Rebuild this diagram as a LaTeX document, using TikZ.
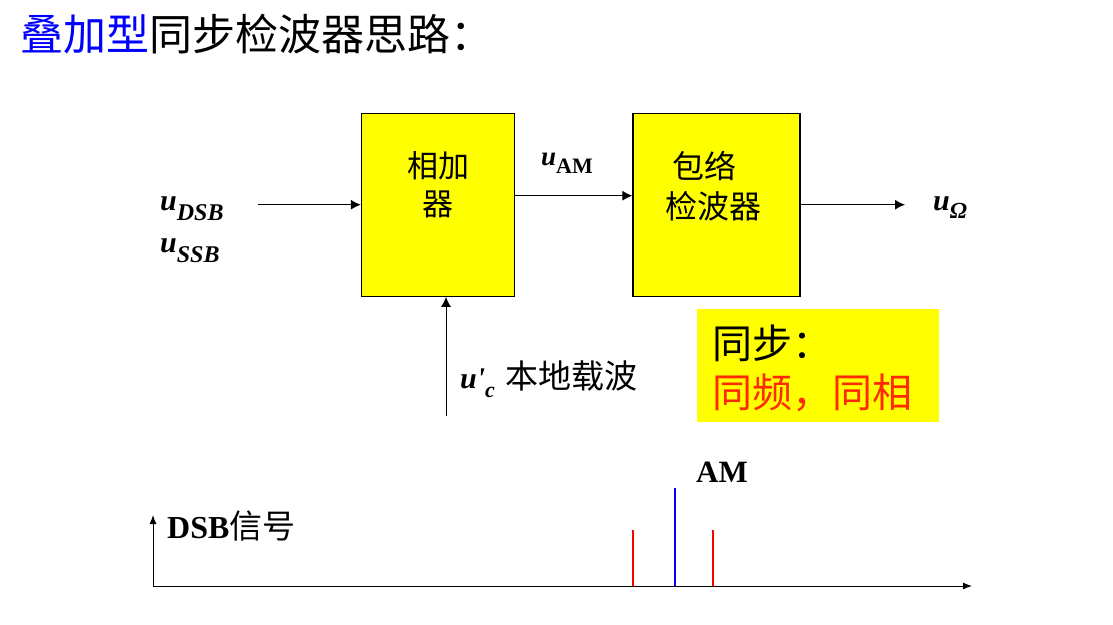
\documentclass[tikz,border=0pt]{standalone}
\usepackage{fontspec}
\setmainfont{Liberation Serif}
\newfontfamily\cjk{Noto Sans CJK SC}
\newfontfamily\rawserif{Liberation Serif}
\usetikzlibrary{arrows.meta}
\definecolor{titleblue}{HTML}{0000FF}
\definecolor{boxyellow}{HTML}{FFFF00}
\definecolor{syncred}{HTML}{FF2A00}
\definecolor{linered}{HTML}{FF0000}
\definecolor{lineblue}{HTML}{0000FF}
\newcommand{\setfs}[1]{\fontsize{#1}{#1}\selectfont}

\begin{document}
\begin{tikzpicture}[x=1pt,y=-1pt,
        blockbox/.style={rectangle, draw=black, fill=boxyellow, line width=1.3pt, inner sep=0pt},
        blocktext/.style={inner sep=0pt, align=center, font=\cjk\fontsize{31}{38}\selectfont},
        varlabel/.style={inner sep=0pt, anchor=base west, font=\bfseries\itshape\setfs{30}},
        plain/.style={inner sep=0pt, anchor=base west},
        conn/.style={line width=1pt, -{Latex[length=10pt,width=10pt]}},
        axis/.style={line width=1pt, -{Latex[length=9pt,width=7pt]}},
        spec/.style={line width=2.8pt},
    ]
        \useasboundingbox (0,0) rectangle (1113,624);

        %Title
        \node[plain, font=\cjk\setfs{43}] (title) at (20,50) {\textcolor{titleblue}{叠加型}同步检波器思路：};

        %Nodes
        \node[blockbox, minimum width=153pt, minimum height=183pt] (adder) at (438,204.7) {};
        \node[blockbox, minimum width=167pt, minimum height=183pt] (envdet) at (716.5,204.7) {};

        \node[blocktext] (addertext) at (438,185) {相加\\器};
        \node[blocktext, font=\cjk\fontsize{32}{40}\selectfont] (envdettext) at (713,186) {包络\hspace*{17pt}\\检波器};

        \node[varlabel] (udsb) at (160,210) {u\raisebox{-10pt}{\setfs{24}DSB}};
        \node[varlabel] (ussb) at (160,252) {u\raisebox{-10pt}{\setfs{24}SSB}};
        \node[varlabel, font=\bfseries\itshape\setfs{27}] (uam) at (541,165) {u\raisebox{-8pt}{\setfs{22}\upshape AM}};
        \node[varlabel] (uomega) at (933,210) {u\raisebox{-8pt}{\setfs{23}Ω}};
        \node[varlabel] (ucarrier) at (460,388) {u{\rawserif\bfseries\itshape '}\raisebox{-9pt}{\setfs{22}c}};
        \node[plain, font=\cjk\setfs{33}] (carrier) at (505,388) {本地载波};

        \coordinate (inL) at (258,204.7);
        \coordinate (outR) at (905,204.7);
        \coordinate (loB) at (446,416);

        %Sync box
        \node[fill=boxyellow, inner sep=0pt, minimum width=242pt, minimum height=113pt] (sync) at (817.5,365.5) {};
        \node[plain, font=\cjk\setfs{40}] (synctitle) at (712,358) {同步：};
        \node[plain, font=\cjk\setfs{40}, text=syncred] (syncitems) at (712,407) {同频，同相};

        %Lines
        \draw[conn] (inL) -- (adder.west);
        \draw[conn] ([yshift=9pt]adder.east) -- ([yshift=9pt]envdet.west);
        \draw[conn] (envdet.east) -- (outR);
        \draw[conn] (loB) -- (loB |- adder.south);

        %Spectrum
        \coordinate (origin) at (153,586);
        \coordinate (xend) at (972,586);
        \coordinate (yend) at (153,515);
        \draw[axis] (origin) -- (xend);
        \draw[axis] (origin) -- (yend);
        \node[plain, font=\bfseries\setfs{32}] (dsblabel) at (167,538) {DSB{\cjk\mdseries\setfs{33}信号}};
        \node[plain, font=\bfseries\setfs{31}] (amlabel) at (696,482) {AM};

        \draw[spec, draw=linered] (633,586) -- (633,530);
        \draw[spec, draw=lineblue] (675,586) -- (675,488);
        \draw[spec, draw=linered] (713,586) -- (713,530);
    \end{tikzpicture}
\end{document}
